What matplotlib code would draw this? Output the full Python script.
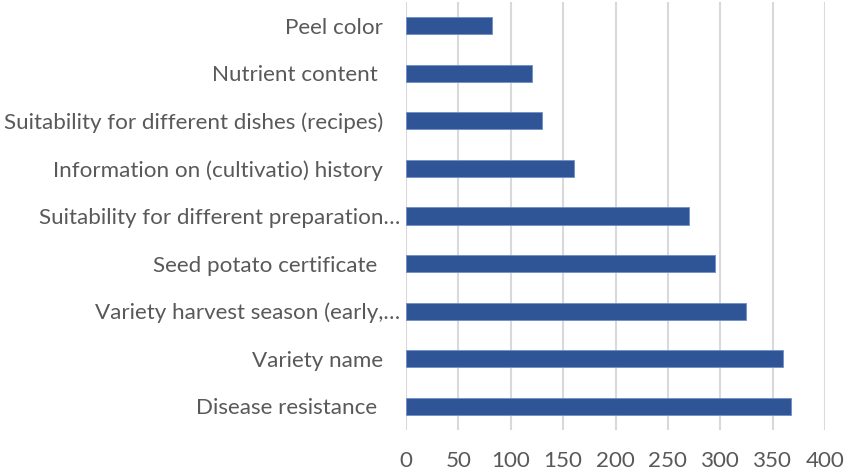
import matplotlib.pyplot as plt
from matplotlib.transforms import ScaledTranslation

categories = ["Disease resistance ", "Variety name", "Variety harvest season (early,…",
              "Seed potato certificate ", "Suitability for different preparation…",
              "Information on (cultivatio) history", "Suitability for different dishes (recipes)",
              "Nutrient content ", "Peel color"]
values = [368, 360, 325, 295, 270, 160, 130, 120, 82]
xticks = [0, 50, 100, 150, 200, 250, 300, 350, 400]

plt.rcParams['font.family'] = ['Lato', 'DejaVu Sans']

fig = plt.figure(figsize=(8.44, 4.73), dpi=100)
ax = fig.add_axes([406 / 844, 43 / 473, 419 / 844, 428 / 473])

ax.barh(range(len(values)), values, height=0.36, color='#2f5597',
        edgecolor='#6f8fc8', linewidth=0.6, zorder=3)

ax.set_xlim(0, 400)
ax.set_ylim(-0.5, len(values) - 0.5)
ax.set_xticks(xticks)
ax.set_yticks(range(len(categories)))
ax.set_yticklabels(categories)
ax.grid(axis='x', color='#d9d9d9', linewidth=1.5, zorder=0)
for s in ax.spines.values():
    s.set_visible(False)
ax.tick_params(axis='both', length=0, labelsize=16.1, colors='#595959')
ax.tick_params(axis='y', pad=16.5)
ax.tick_params(axis='x', pad=15)

# truncated labels sit closer to the axis
for lab in ax.get_yticklabels():
    if lab.get_text().endswith('…'):
        lab.set_transform(lab.get_transform() + ScaledTranslation(17 / 100, 0, fig.dpi_scale_trans))

fig.savefig('out.png', dpi=100)
